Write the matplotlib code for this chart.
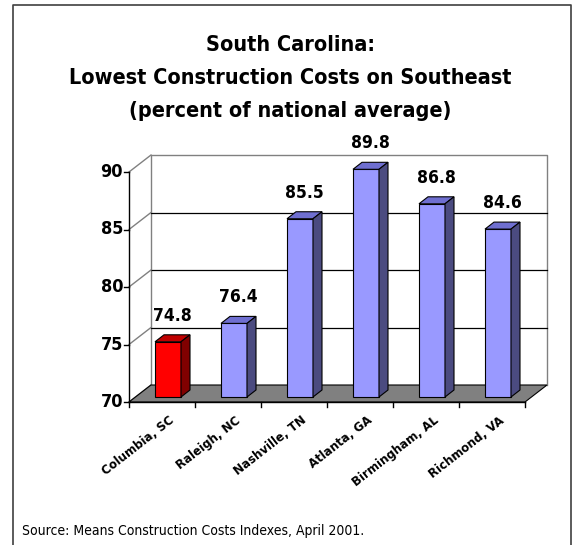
import matplotlib
matplotlib.use("Agg")
import matplotlib.pyplot as plt
from matplotlib.patches import Polygon

# data
cities = ['Columbia, SC', 'Raleigh, NC', 'Nashville, TN', 'Atlanta, GA', 'Birmingham, AL', 'Richmond, VA']
costs = [74.8, 76.4, 85.5, 89.8, 86.8, 84.6]
highlight = [True, False, False, False, False, False]
yticks = [70, 75, 80, 85, 90]

title_lines = ['South Carolina:', 'Lowest Construction Costs on Southeast', '(percent of national average)']
source = 'Source: Means Construction Costs Indexes, April 2001.'

W, H = 573, 545
fig = plt.figure(figsize=(W / 100, H / 100), dpi=100)

narrow = dict(family='DejaVu Sans', fontstretch='condensed')

# front plane of the 3d box in pixels
x0, x1 = 129, 525
ytop, ybot = 172, 402
ax = fig.add_axes([x0 / W, (H - ybot) / H, (x1 - x0) / W, (ybot - ytop) / H])
n = len(cities)
ymin, ymax = yticks[0], yticks[-1]
ax.set_xlim(0, n)
ax.set_ylim(ymin, ymax)
ax.axis('off')

kx = n / (x1 - x0)            # data units per pixel
ky = (ymax - ymin) / (ybot - ytop)

# depth of the box
dx, dy = 22 * kx, 17 * ky
grey = '#808080'

# floor
ax.add_patch(Polygon([(0, ymin), (n, ymin), (n + dx, ymin + dy), (dx, ymin + dy)],
                     closed=True, fc=grey, ec='black', lw=0.8, clip_on=False, zorder=1))
# back wall
ax.plot([dx, dx, n + dx, n + dx], [ymin + dy, ymax + dy, ymax + dy, ymin + dy],
        color=grey, lw=1, clip_on=False, zorder=0.5)
for t in yticks[1:-1]:
    ax.plot([dx, n + dx], [t + dy, t + dy], color='black', lw=0.9, clip_on=False, zorder=0.5)
# side wall diagonals
for t in yticks:
    ax.plot([0, dx], [t, t + dy], color=grey, lw=1, clip_on=False, zorder=0.6)

# front axes
ax.plot([0, 0], [ymin, ymax], color='black', lw=1, clip_on=False, zorder=3)
ax.plot([0, n], [ymin, ymin], color='black', lw=1, clip_on=False, zorder=3)
for t in yticks:
    ax.plot([0, -5 * kx], [t, t], color='black', lw=1, clip_on=False, zorder=3)
    ax.text(-6 * kx, t, str(t), ha='right', va='center', fontsize=13, fontweight='bold', **narrow)
for i in range(n + 1):
    ax.plot([i, i], [ymin, ymin - 5 * ky], color='black', lw=1, clip_on=False, zorder=3)

# bars
bw = 26 * kx
bdx, bdy = 9 * kx, 7 * ky
offx, offy = 6 * kx, 5 * ky
for i, (v, hl) in enumerate(zip(costs, highlight)):
    if hl:
        front, top, side = '#FF0000', '#C00000', '#800000'
    else:
        front, top, side = '#9999FF', '#6F6FD0', '#4B4B80'
    xl = i + 0.5 + offx - bw / 2
    xr = xl + bw
    yb = ymin + offy
    yt = v + offy
    ax.add_patch(Polygon([(xl, yb), (xr, yb), (xr, yt), (xl, yt)], closed=True,
                         fc=front, ec='black', lw=0.8, clip_on=False, zorder=4))
    ax.add_patch(Polygon([(xl, yt), (xr, yt), (xr + bdx, yt + bdy), (xl + bdx, yt + bdy)], closed=True,
                         fc=top, ec='black', lw=0.8, clip_on=False, zorder=4))
    ax.add_patch(Polygon([(xr, yb), (xr + bdx, yb + bdy), (xr + bdx, yt + bdy), (xr, yt)], closed=True,
                         fc=side, ec='black', lw=0.8, clip_on=False, zorder=4))
    ax.text(i + 0.5 + offx + bdx / 2, yt + 26 * ky, f'{v:.1f}', ha='center', va='center',
            fontsize=12.5, fontweight='bold', zorder=5, **narrow)

# category labels
for i, c in enumerate(cities):
    ax.text(i + 0.5 + 11 * kx, ymin - 17 * ky, c, rotation=38, rotation_mode='anchor',
            ha='right', va='center', fontsize=8.5, fontweight='heavy', family='DejaVu Sans')

# titles
for j, line in enumerate(title_lines):
    fig.text(290 / W, 1 - (45 + 33 * j) / H, line, ha='center', va='center',
             fontsize=15.5, fontweight='bold', **narrow)

fig.text(22 / W, 1 - 531 / H, source, ha='left', va='center', fontsize=10, **narrow)

# outer frame (open at the bottom)
fig.add_artist(plt.Line2D([13 / W, 13 / W, 571 / W, 571 / W], [0, 1 - 5 / H, 1 - 5 / H, 0],
                          transform=fig.transFigure, color='#404040', lw=1.2))

fig.savefig('out.png', dpi=100)
